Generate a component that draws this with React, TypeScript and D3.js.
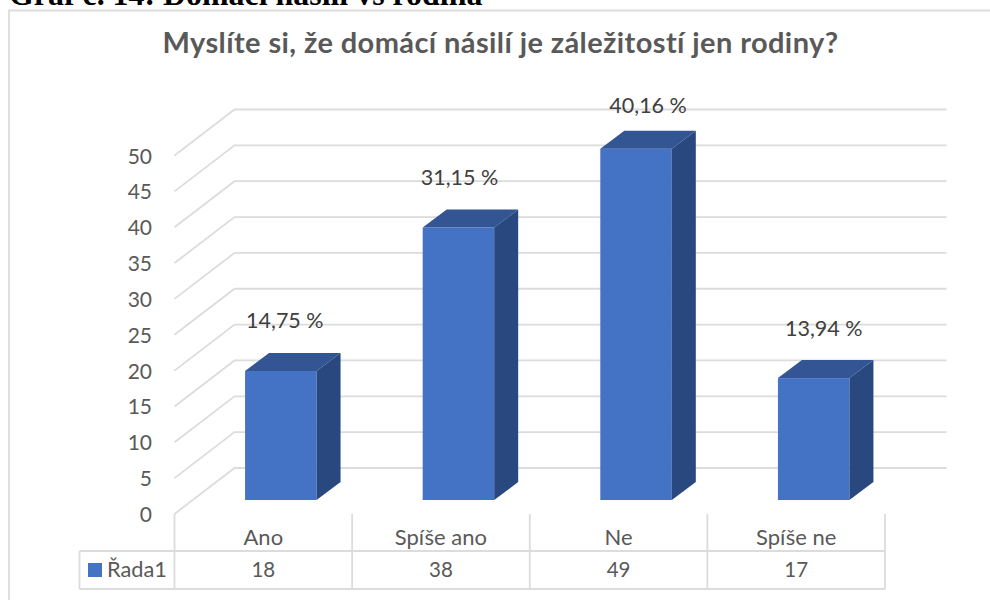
import React from 'react';
import * as d3 from 'd3';

const categories = ['Ano', 'Spíše ano', 'Ne', 'Spíše ne'];
const values = [18, 38, 49, 17];
const percentLabels = ['14,75 %', '31,15 %', '40,16 %', '13,94 %'];
const yTicks = [0, 5, 10, 15, 20, 25, 30, 35, 40, 45, 50];
const seriesName = 'Řada1';
const heading = 'Graf č. 14: Domácí násilí vs rodina';
const title = 'Myslíte si, že domácí násilí je záležitostí jen rodiny?';

const font = 'Lato, "Open Sans", sans-serif';
const GRID = '#dcdcdc';
const TEXT = '#595959';
const LINE_W = 1.8;

// plot frame
const left = 174.5;
const right = 885;
const y0 = 514;
const y50 = 155.5;
const wallDx = 60;
const wallDy = -46;
// the bar box sits inside the floor depth
const barInsetDx = 18;
const barInsetDy = -14;
const barDepthDx = 24;
const barDepthDy = -18;
const barWidth = 71.5;
const tableLeft = 79.5;
const headerY = 551;
const tableBottom = 589;

// hand placed data labels, relative to the bar's back top centre
const labelShift = [
  { dx: -8, dy: -32 },
  { dx: -11, dy: -32 },
  { dx: 0, dy: -25 },
  { dx: -2, dy: -32 },
];

export default function App() {
  const x = d3.scaleBand().domain(categories).range([left, right]);
  const y = d3.scaleLinear().domain([0, 50]).range([y0, y50]);

  const wall = d3.line<[number, number]>();

  return (
    <svg
      width={990}
      height={600}
      style={{ position: 'absolute', left: 0, top: 0, background: '#fff' }}
    >
      <text
        x={9}
        y={5}
        fontFamily='"Liberation Serif", serif'
        fontWeight={700}
        fontSize={31.9}
        fill="#000"
      >
        {heading}
      </text>

      {/* chart frame: open at right and bottom, the picture cuts it off */}
      <path d="M9,600V10.5H990" fill="none" stroke={GRID} strokeWidth={LINE_W} />

      <text
        x={500.5}
        y={53}
        textAnchor="middle"
        fontFamily={font}
        fontWeight={700}
        fontSize={29}
        letterSpacing={0.4}
        fill={TEXT}
      >
        {title}
      </text>

      {/* grid lines on floor and back wall */}
      {yTicks.map((t) => (
        <g key={t}>
          <path
            d={
              wall([
                [left, y(t)],
                [left + wallDx, y(t) + wallDy],
                [right + wallDx + 1.5, y(t) + wallDy],
              ]) ?? ''
            }
            fill="none"
            stroke={GRID}
            strokeWidth={LINE_W}
          />
          <text
            x={152}
            y={y(t) + 8}
            textAnchor="end"
            fontFamily={font}
            fontSize={21}
            fill={TEXT}
          >
            {t}
          </text>
        </g>
      ))}

      {/* bars */}
      {categories.map((c, i) => {
        const bx = (x(c) ?? 0) + x.bandwidth() / 2 - barWidth / 2 + barInsetDx - 0.5;
        const by = y(0) + barInsetDy;
        const top = by - (y(0) - y(values[i]));
        const bx2 = bx + barWidth;
        return (
          <g key={c}>
            <rect x={bx} y={top} width={barWidth} height={by - top} fill="#4472c4" />
            <path
              d={`M${bx},${top}l${barDepthDx},${barDepthDy}h${barWidth}l${-barDepthDx},${-barDepthDy}z`}
              fill="#335593"
            />
            <path
              d={`M${bx2},${top}l${barDepthDx},${barDepthDy}V${by + barDepthDy}l${-barDepthDx},${-barDepthDy}z`}
              fill="#2a4880"
            />
            <text
              x={bx + (barWidth + barDepthDx) / 2 + labelShift[i].dx}
              y={top + barDepthDy + labelShift[i].dy + 7.5}
              textAnchor="middle"
              fontFamily={font}
              fontSize={21.5}
              fill="#404040"
            >
              {percentLabels[i]}
            </text>
          </g>
        );
      })}

      {/* data table */}
      <path
        d={`M${tableLeft},${headerY}H${right}M${tableLeft},${tableBottom}H${right}M${tableLeft},${headerY}V${tableBottom}`}
        fill="none"
        stroke={GRID}
        strokeWidth={LINE_W}
      />
      {[...categories.map((c) => x(c) ?? 0), right].map((vx) => (
        <line key={vx} x1={vx} x2={vx} y1={y0} y2={tableBottom} stroke={GRID} strokeWidth={LINE_W} />
      ))}
      <rect x={88} y={563} width={14} height={14} fill="#4472c4" />
      <text x={107} y={577} fontFamily={font} fontSize={21.8} fill={TEXT}>
        {seriesName}
      </text>
      {categories.map((c, i) => {
        const cx = (x(c) ?? 0) + x.bandwidth() / 2;
        return (
          <g key={c} fontFamily={font} fill={TEXT} textAnchor="middle">
            <text x={cx} y={545} fontSize={22}>
              {c}
            </text>
            <text x={cx} y={577} fontSize={20.5}>
              {values[i]}
            </text>
          </g>
        );
      })}
    </svg>
  );
}
